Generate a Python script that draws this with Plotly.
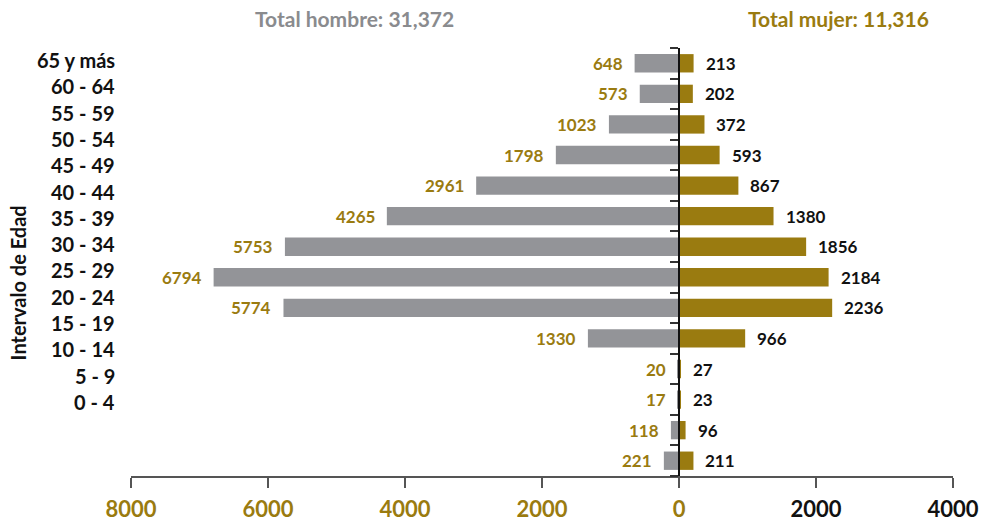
import plotly.graph_objects as go

# Age groups, top to bottom
grupos = ["65 y más", "60 - 64", "55 - 59", "50 - 54", "45 - 49", "40 - 44",
          "35 - 39", "30 - 34", "25 - 29", "20 - 24", "15 - 19", "10 - 14",
          "5 - 9", "0 - 4"]
hombres = [648, 573, 1023, 1798, 2961, 4265, 5753, 6794, 5774, 1330, 20, 17, 118, 221]
mujeres = [213, 202, 372, 593, 867, 1380, 1856, 2184, 2236, 966, 27, 23, 96, 211]

total_hombre = "31,372"
total_mujer = "11,316"

tick_vals = [-8000, -6000, -4000, -2000, 0, 2000, 4000]
tick_text = ["8000", "6000", "4000", "2000", "0", "2000", "4000"]

GRIS = "#939498"
ORO = "#9a7b10"
NEGRO = "#111111"
FONT = "Lato"

# row index of each age group (0 = top row)
filas = list(range(len(grupos)))
limites = [f - 0.5 for f in filas] + [filas[-1] + 0.5]

fig = go.Figure()
fig.add_trace(go.Bar(
    y=filas, x=[-v for v in hombres], orientation="h",
    marker=dict(color=GRIS, line=dict(width=0)), width=0.6,
    name="Hombre", hovertext=grupos, hoverinfo="text+x",
))
fig.add_trace(go.Bar(
    y=filas, x=mujeres, orientation="h",
    marker=dict(color=ORO, line=dict(width=0)), width=0.6,
    name="Mujer", hovertext=grupos, hoverinfo="text+x",
))

annotations = []
# value labels beside each bar
for f, h, m in zip(filas, hombres, mujeres):
    annotations.append(dict(
        x=-h, y=f, xref="x", yref="y", text=str(h), showarrow=False,
        xanchor="right", xshift=-10, yanchor="middle",
        font=dict(family=FONT, size=17, color=ORO, weight="bold"),
    ))
    annotations.append(dict(
        x=m, y=f, xref="x", yref="y", text=str(m), showarrow=False,
        xanchor="left", xshift=10, yanchor="middle",
        font=dict(family=FONT, size=17, color=NEGRO, weight="bold"),
    ))

# age group labels in a column on the left
plot_top, plot_h = 48, 428
for i, g in enumerate(grupos):
    ypx = 60 + i * 26.3
    annotations.append(dict(
        x=-0.017, y=1 - (ypx - plot_top) / plot_h, xref="paper", yref="paper",
        text=g, showarrow=False, xanchor="right", yanchor="middle",
        font=dict(family=FONT, size=20, color=NEGRO, weight="bold"),
    ))

annotations.append(dict(
    x=-0.137, y=1 - (283 - plot_top) / plot_h, xref="paper", yref="paper",
    text="Intervalo de Edad", textangle=-90, showarrow=False,
    xanchor="center", yanchor="middle",
    font=dict(family=FONT, size=20, color=NEGRO, weight="bold"),
))
annotations.append(dict(
    x=(354 - 131) / 822, y=1 + (48 - 19) / plot_h, xref="paper", yref="paper",
    text=f"Total hombre: {total_hombre}", showarrow=False,
    xanchor="center", yanchor="middle",
    font=dict(family=FONT, size=21, color="#8a8b8e", weight="bold"),
))
annotations.append(dict(
    x=(838 - 131) / 822, y=1 + (48 - 19) / plot_h, xref="paper", yref="paper",
    text=f"Total mujer: {total_mujer}", showarrow=False,
    xanchor="center", yanchor="middle",
    font=dict(family=FONT, size=21, color=ORO, weight="bold"),
))

tick_colored = [
    f'<span style="color:{ORO if v <= 0 else NEGRO}">{t}</span>'
    for v, t in zip(tick_vals, tick_text)
]

fig.update_layout(
    width=986, height=521,
    margin=dict(l=131, r=33, t=48, b=45),
    paper_bgcolor="white", plot_bgcolor="white",
    barmode="overlay", showlegend=False,
    font=dict(family=FONT),
    annotations=annotations,
    xaxis=dict(
        range=[-8000, 4000], tickvals=tick_vals, ticktext=tick_colored,
        showgrid=False, zeroline=False, automargin=False,
        showline=True, linecolor="#555555", linewidth=2,
        ticks="outside", ticklen=10, tickwidth=2, tickcolor="#555555",
        ticklabelstandoff=3,
        tickfont=dict(family=FONT, size=22, weight="bold"),
        fixedrange=True,
    ),
    yaxis=dict(
        range=[limites[-1], limites[0]], tickvals=limites,
        showticklabels=False, automargin=False,
        anchor="free", position=8000 / 12000,
        showgrid=False, zeroline=False,
        showline=True, linecolor=NEGRO, linewidth=1.5,
        ticks="outside", ticklen=8, tickwidth=1.5,
        tickcolor="#333333", fixedrange=True, layer="above traces",
    ),
)

fig.write_html("out.html")
